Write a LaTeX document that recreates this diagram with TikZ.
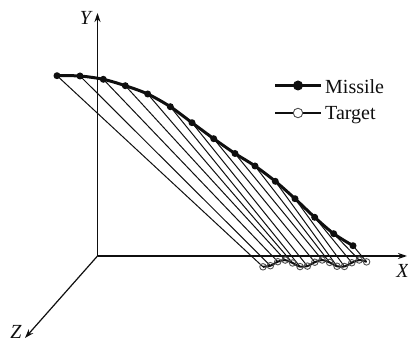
\documentclass[tikz,border=0pt]{standalone}
\usepackage{fontspec}
\setmainfont{Liberation Serif}
\usetikzlibrary{arrows.meta}
\definecolor{MTink}{RGB}{15,15,15}
\definecolor{MTgray}{RGB}{80,80,80}
\tikzset{
  axis/.style={-{Stealth[length=9pt,width=6pt]},line width=1.2pt,draw=MTink},
  axlabel/.style={font=\fontsize{20}{24}\selectfont\itshape,text=MTink,inner sep=0pt,anchor=base},
  missile/.style={line width=3pt,draw=MTink},
  target/.style={line width=2pt,draw=MTink},
  mdot/.style={circle,fill=MTink,inner sep=0pt,minimum size=7pt},
  tdot/.style={circle,draw=MTgray,line width=0.9pt,inner sep=0pt,minimum size=6.5pt},
  sight/.style={line width=1pt,draw=MTink},
  legtext/.style={font=\fontsize{20}{24}\selectfont,text=MTink,anchor=base west,inner sep=0pt}
}
\begin{document}
\begin{tikzpicture}[x=1pt,y=-1pt]
  \useasboundingbox (0,0) rectangle (408,342);
  % axes
  \coordinate (o) at (97.5,256);
  \coordinate (xend) at (407,256);
  \coordinate (yend) at (97.5,13);
  \coordinate (zend) at (25,338);
  \draw[axis] (o) -- (xend);
  \draw[axis] (o) -- (yend);
  \draw[axis] (o) -- (zend);
  \node[axlabel] (xlab) at (402.5,278) {X};
  \node[axlabel] (ylab) at (85.5,25) {Y};
  \node[axlabel] (zlab) at (16,339) {Z};
  % trajectory points
  \foreach \x/\y [count=\i] in {57/75.7,80/76,103.3/79.3,125.3/85.7,147.7/94,170.3/106.7,
      192/122.7,213.7/138.7,235/153.5,255/166,275.3/181.3,295/198.7,314.7/217.3,333.7/233.7,353/245.7}
    \coordinate (m\i) at (\x,\y);
  \foreach \i in {1,...,15}{
    \pgfmathsetmacro\tx{263+7.4*(\i-1)}
    \pgfmathsetmacro\ty{263.5+3.5*cos((\tx-265)/38*360)}
    \coordinate (t\i) at (\tx,\ty);
  }
  % lines of sight
  \foreach \i in {1,...,15}
    \draw[sight] (m\i) -- (t\i);
  % target path
  \draw[target] plot[smooth] coordinates {(t1) (t2) (t3) (t4) (t5) (t6) (t7) (t8)
      (t9) (t10) (t11) (t12) (t13) (t14) (t15)};
  \foreach \i in {1,...,15}
    \node[tdot] (td\i) at (t\i) {};
  % missile path
  \draw[missile] plot[smooth] coordinates {(m1) (m2) (m3) (m4) (m5) (m6) (m7) (m8)
      (m9) (m10) (m11) (m12) (m13) (m14) (m15)};
  \foreach \i in {1,...,15}
    \node[mdot] (md\i) at (m\i) {};
  % legend
  \coordinate (lma) at (275,85.5);
  \coordinate (lmb) at (321,85.5);
  \coordinate (lta) at (275,113);
  \coordinate (ltb) at (321,113);
  \draw[missile] (lma) -- (lmb);
  \node[mdot,minimum size=10pt] (lmdot) at (298,85.5) {};
  \node[legtext] (lmiss) at (325,94) {Missile};
  \draw[target] (lta) -- (ltb);
  \node[tdot,fill=white,minimum size=9.5pt] (ltdot) at (298,113) {};
  \node[legtext] (ltarg) at (325,119.3) {Target};
\end{tikzpicture}
\end{document}
